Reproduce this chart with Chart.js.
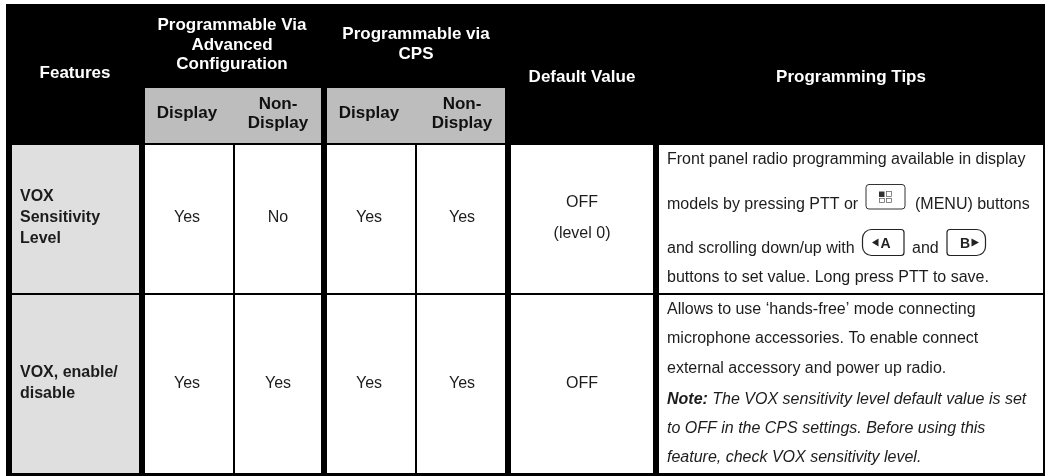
<!DOCTYPE html>
<html lang="en">
<head>
<meta charset="UTF-8">
<title>VOX features table</title>
<script src="https://cdn.jsdelivr.net/npm/chart.js"></script>
<style>
  html, body { margin: 0; padding: 0; background: #fff; }
  canvas { display: block; }
</style>
</head>
<body>
<canvas id="tableChart" width="1045" height="476"></canvas>
<script>
// table content
const features = [['VOX', 'Sensitivity', 'Level'], ['VOX, enable/', 'disable']];
const advDisplay = ['Yes', 'Yes'];
const advNonDisplay = ['No', 'Yes'];
const cpsDisplay = ['Yes', 'Yes'];
const cpsNonDisplay = ['Yes', 'Yes'];
const defaultValues = [['OFF', '(level 0)'], ['OFF']];
const tipsRow1 = [
  ['Front panel radio programming available in display'],
  ['models by pressing PTT or', '(MENU) buttons'],
  ['and scrolling down/up with', 'and'],
  ['buttons to set value. Long press PTT to save.']
];
const tipsRow2 = [
  'Allows to use \u2018hands-free\u2019 mode connecting',
  'microphone accessories. To enable connect',
  'external accessory and power up radio.'
];
const noteLabel = 'Note:';
const tipsNote = [
  ' The VOX sensitivity level default value is set',
  'to OFF in the CPS settings. Before using this',
  'feature, check VOX sensitivity level.'
];

// grid of the table, in picture units
const xCols = [[12, 139], [145, 233], [235, 321], [327, 415], [417, 505], [511, 653], [659, 1043]];
const yRows = [[145, 293], [295, 473]];

const SANS = '"Liberation Sans", Arial, sans-serif';
const INK = '#1c1c1c';

function rect(l, r, t, b, color) {
  return {
    data: [{x: l, y: t}, {x: r, y: t}, {x: r, y: b}, {x: l, y: b}, {x: l, y: t}],
    backgroundColor: color, borderWidth: 0, pointRadius: 0, showLine: true,
    fill: 'shape', tension: 0
  };
}

const cellSets = [];
yRows.forEach(function (row) {
  xCols.forEach(function (col, i) {
    cellSets.push(rect(col[0], col[1], row[0], row[1], i === 0 ? '#dfdfdf' : '#ffffff'));
  });
});
cellSets.push(rect(145, 321, 88, 143, '#bdbdbd'));
cellSets.push(rect(327, 505, 88, 143, '#bdbdbd'));
// first dataset is painted last, so the black sheet goes at the end
cellSets.push(rect(6, 1045, 4, 476, '#000000'));

function text(ctx, str, x, y, font, color, align) {
  ctx.font = font;
  ctx.fillStyle = color;
  ctx.textAlign = align || 'center';
  ctx.textBaseline = 'alphabetic';
  ctx.fillText(str, x, y);
}

// key icons inside the tips text
function menuKey(ctx, l, r, t, b) {
  ctx.strokeStyle = '#333';
  ctx.lineWidth = 1;
  ctx.beginPath();
  ctx.roundRect(l, t, r - l, b - t, 3);
  ctx.stroke();
  const cx = (l + r) / 2;
  const top = t + 7;
  ctx.fillStyle = '#333';
  ctx.fillRect(cx - 6.5, top, 5.5, 5.5);
  ctx.lineWidth = 0.7;
  ctx.strokeStyle = '#555';
  ctx.strokeRect(cx + 1, top, 5, 5);
  ctx.strokeRect(cx - 6, top + 7, 5, 4);
  ctx.strokeRect(cx + 1, top + 7, 5, 4);
}

function arrowKey(ctx, l, r, t, b, side) {
  const radii = side === 'left' ? [9, 3, 3, 9] : [3, 9, 9, 3];
  ctx.strokeStyle = '#222';
  ctx.lineWidth = 1.2;
  ctx.beginPath();
  ctx.roundRect(l, t, r - l, b - t, radii);
  ctx.stroke();
  const my = (t + b) / 2;
  ctx.fillStyle = '#222';
  ctx.beginPath();
  if (side === 'left') {
    ctx.moveTo(l + 9.5, my);
    ctx.lineTo(l + 16, my - 4);
    ctx.lineTo(l + 16, my + 4);
  } else {
    ctx.moveTo(r - 6.5, my);
    ctx.lineTo(r - 14, my - 4);
    ctx.lineTo(r - 14, my + 4);
  }
  ctx.fill();
  const label = side === 'left' ? 'A' : 'B';
  const lx = side === 'left' ? l + 23 : r - 20.5;
  text(ctx, label, lx, my + 5, 'bold 14px ' + SANS, '#222');
}

const tablePlugin = {
  id: 'tableText',
  afterDatasetsDraw(chart) {
    const ctx = chart.ctx;
    const sx = chart.scales.x;
    const sy = chart.scales.y;
    const X = v => sx.getPixelForValue(v);
    const Y = v => sy.getPixelForValue(v);
    const head = 'bold 17px ' + SANS;
    const bold = 'bold 16px ' + SANS;
    const body = '16px ' + SANS;
    ctx.save();

    // header
    text(ctx, 'Features', X(75), Y(78), head, '#fff');
    ['Programmable Via', 'Advanced', 'Configuration'].forEach((s, i) => text(ctx, s, X(232), Y(30 + i * 19.5), head, '#fff'));
    ['Programmable via', 'CPS'].forEach((s, i) => text(ctx, s, X(416), Y(39 + i * 20), head, '#fff'));
    text(ctx, 'Default Value', X(582), Y(82), head, '#fff');
    text(ctx, 'Programming Tips', X(851), Y(82), head, '#fff');
    [187, 369].forEach(x => text(ctx, 'Display', X(x), Y(118), head, '#111'));
    [278, 462].forEach(x => {
      text(ctx, 'Non-', X(x), Y(109), head, '#111');
      text(ctx, 'Display', X(x), Y(128), head, '#111');
    });

    // feature names
    features[0].forEach((s, i) => text(ctx, s, X(20), Y(201 + i * 21), bold, INK, 'left'));
    features[1].forEach((s, i) => text(ctx, s, X(20), Y(377 + i * 20.5), bold, INK, 'left'));

    // yes/no columns
    const rowY = [222, 388];
    [[advDisplay, 187], [advNonDisplay, 278], [cpsDisplay, 369], [cpsNonDisplay, 462]].forEach(pair => {
      pair[0].forEach((s, r) => text(ctx, s, X(pair[1]), Y(rowY[r]), body, INK));
    });

    // default values
    defaultValues[0].forEach((s, i) => text(ctx, s, X(582), Y(207 + i * 31), body, INK));
    text(ctx, defaultValues[1][0], X(582), Y(388), body, INK);

    // tips, the middle lines of the first row wrap around the key icons
    const tipsLeft = 667;
    const y1 = [164, 209, 253, 282];
    const afterKey = [0, 915, 912, 0];
    tipsRow1.forEach((parts, i) => {
      text(ctx, parts[0], X(tipsLeft), Y(y1[i]), body, INK, 'left');
      if (parts[1]) {
        text(ctx, parts[1], X(afterKey[i]), Y(y1[i]), body, INK, 'left');
      }
    });
    menuKey(ctx, X(866), X(905), Y(184.5), Y(209));
    arrowKey(ctx, X(862.5), X(904), Y(229.5), Y(255.5), 'left');
    arrowKey(ctx, X(947), X(985.5), Y(229.5), Y(255.5), 'right');

    const y2 = [314, 343, 373];
    tipsRow2.forEach((s, i) => text(ctx, s, X(tipsLeft), Y(y2[i]), body, INK, 'left'));
    const y3 = [404, 433, 462];
    text(ctx, noteLabel, X(tipsLeft), Y(y3[0]), 'italic bold 16px ' + SANS, INK, 'left');
    const noteWidth = ctx.measureText(noteLabel).width;
    tipsNote.forEach((s, i) => {
      text(ctx, s, X(tipsLeft) + (i === 0 ? noteWidth : 0), Y(y3[i]), 'italic 16px ' + SANS, INK, 'left');
    });
    ctx.restore();
  }
};

new Chart(document.getElementById('tableChart'), {
  type: 'scatter',
  data: {datasets: cellSets},
  options: {
    responsive: false,
    animation: false,
    layout: {padding: 0},
    plugins: {legend: {display: false}, tooltip: {enabled: false}},
    scales: {
      x: {type: 'linear', min: 0, max: 1045, display: false},
      y: {type: 'linear', min: 0, max: 476, reverse: true, display: false}
    }
  },
  plugins: [tablePlugin]
});
</script>
</body>
</html>
